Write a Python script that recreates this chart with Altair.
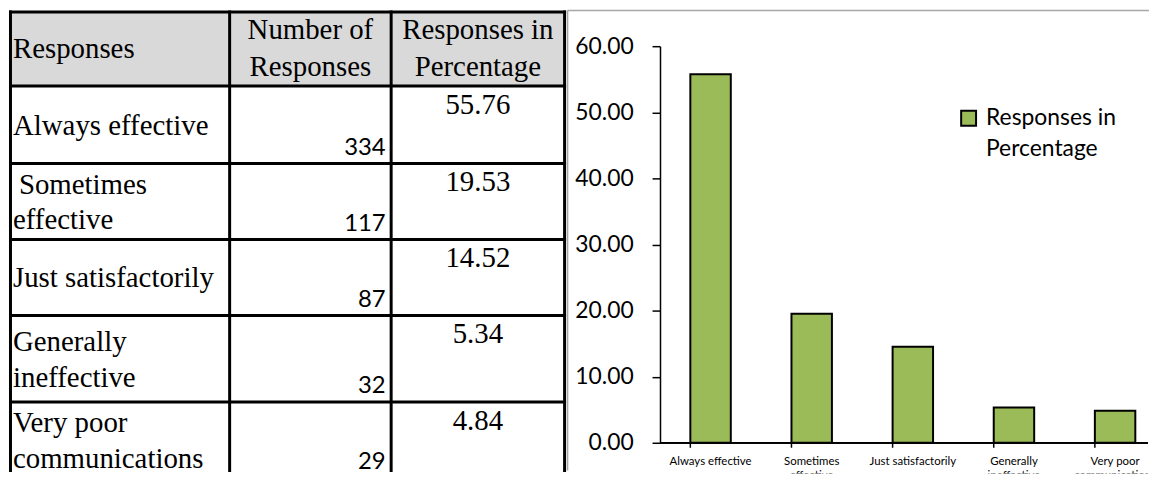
import altair as alt
import pandas as pd

# ---------------- data ----------------
RESPONSE_LINES = [
    ["Always effective"],
    [" Sometimes", "effective"],
    ["Just satisfactorily"],
    ["Generally", "ineffective"],
    ["Very poor", "communications"],
]
RESPONSES = [" ".join(l).strip() for l in RESPONSE_LINES]
COUNTS = [334, 117, 87, 32, 29]
PERCENTAGES = [55.76, 19.53, 14.52, 5.34, 4.84]
HEADER_LINES = [["Responses"], ["Number of", "Responses"], ["Responses in", "Percentage"]]
Y_TICKS = [0, 10, 20, 30, 40, 50, 60]
SERIES = "\n".join(HEADER_LINES[2])

GREEN = "#9bbb59"
SERIF = "Liberation Serif"
SANS = "Lato"

# ---------------- table layout ----------------
W_TABLE = 560
H = 467
COL_EDGES = [1.5, 222, 384.5, 559]
ROW_EDGES = [2.5, 77, 155, 231.5, 308, 395, 471]
LINE_END = 464
LINE_GAP = 36
TEXT_X = 4
LEAD_SPACE = 6  # width of a leading space in the first column

xs = alt.Scale(domain=[0, W_TABLE], range=[0, W_TABLE], nice=False, zero=False)
ys = alt.Scale(domain=[0, H], range=[0, H], nice=False, zero=False)

grid_rows = []
for x in COL_EDGES:
    grid_rows.append({"x0": x, "y0": ROW_EDGES[0], "x1": x, "y1": LINE_END})
for y in ROW_EDGES[:-1]:
    grid_rows.append({"x0": COL_EDGES[0], "y0": y, "x1": COL_EDGES[-1], "y1": y})
grid_df = pd.DataFrame(grid_rows)

frame_df = pd.DataFrame([
    {"x0": 562, "y0": 1, "x1": 562, "y1": LINE_END},
    {"x0": 562, "y0": 1, "x1": 1147, "y1": 1},
])

hdr_df = pd.DataFrame([{"x0": COL_EDGES[0], "y0": ROW_EDGES[0], "x1": COL_EDGES[-1], "y1": ROW_EDGES[1]}])

left_rows, center_rows = [], []
hc = (ROW_EDGES[0] + ROW_EDGES[1]) / 2
for ci, lines in enumerate(HEADER_LINES):
    n = len(lines)
    for j, t in enumerate(lines):
        y = hc + (j - (n - 1) / 2) * 37
        if ci == 0:
            left_rows.append({"x": TEXT_X, "y": y, "t": t})
        else:
            cx = (COL_EDGES[ci] + COL_EDGES[ci + 1]) / 2
            center_rows.append({"x": cx, "y": y, "t": t})
for i, lines in enumerate(RESPONSE_LINES):
    rc = (ROW_EDGES[i + 1] + ROW_EDGES[i + 2]) / 2 + 1
    n = len(lines)
    for j, t in enumerate(lines):
        x = TEXT_X + (LEAD_SPACE if t.startswith(" ") else 0)
        left_rows.append({"x": x, "y": rc + (j - (n - 1) / 2) * LINE_GAP, "t": t.strip()})
left_df = pd.DataFrame(left_rows)
center_df = pd.DataFrame(center_rows)

cnt_df = pd.DataFrame({
    "x": [379] * len(COUNTS),
    "y": [ROW_EDGES[i + 2] - 9 for i in range(len(COUNTS))],
    "v": COUNTS,
})
pc_x = (COL_EDGES[2] + COL_EDGES[3]) / 2
pct_df = pd.DataFrame({
    "x": [pc_x] * len(PERCENTAGES),
    "y": [ROW_EDGES[i + 1] + 28 for i in range(len(PERCENTAGES))],
    "v": PERCENTAGES,
})

X = lambda f: alt.X(f, type="quantitative", scale=xs, axis=None)
Y = lambda f: alt.Y(f, type="quantitative", scale=ys, axis=None)

hdr = alt.Chart(hdr_df).mark_rect(color="#d9d9d9").encode(x=X("x0"), x2="x1", y=Y("y0"), y2="y1")
grid = alt.Chart(grid_df).mark_rule(color="black", strokeWidth=3, strokeCap="square").encode(
    x=X("x0"), x2="x1", y=Y("y0"), y2="y1")
frame = alt.Chart(frame_df).mark_rule(color="#a6a6a6", strokeWidth=1.5).encode(
    x=X("x0"), x2="x1", y=Y("y0"), y2="y1")
ltxt = alt.Chart(left_df).mark_text(align="left", baseline="middle", font=SERIF, fontSize=29, color="black").encode(
    x=X("x"), y=Y("y"), text="t:N")
ctxt = alt.Chart(center_df).mark_text(align="center", baseline="middle", font=SERIF, fontSize=29, color="black").encode(
    x=X("x"), y=Y("y"), text="t:N")
cnt = alt.Chart(cnt_df).mark_text(align="right", baseline="alphabetic", font=SANS, fontSize=24, color="black").encode(
    x=X("x"), y=Y("y"), text=alt.Text("v:Q", format="d"))
pct = alt.Chart(pct_df).mark_text(align="center", baseline="alphabetic", font=SERIF, fontSize=29, color="black").encode(
    x=X("x"), y=Y("y"), text=alt.Text("v:Q", format=".2f"))

table = alt.layer(hdr, grid, frame, ltxt, ctxt, cnt, pct).properties(width=W_TABLE, height=H)

# ---------------- bar chart ----------------
SPACING = 95
W_BAR = 491
STEP = 101.75
bar_df = pd.DataFrame({
    "response": RESPONSES,
    "label": ["\n".join(s.strip() for s in l) for l in RESPONSE_LINES],
    "pct": PERCENTAGES,
    "series": [SERIES] * len(RESPONSES),
})

xsc = alt.Scale(domain=RESPONSES, range=[0, STEP * len(RESPONSES)], paddingInner=0.6, paddingOuter=0.3)
ysc = alt.Scale(domain=[0, 60], range=[436, 37], nice=False, zero=True)

base = alt.Chart(bar_df)
bars = base.mark_bar(stroke="black", strokeWidth=2, clip=True).encode(
    x=alt.X("response:N", scale=xsc, axis=None, sort=RESPONSES),
    y=alt.Y("pct:Q", scale=ysc, title=None, axis=alt.Axis(
        values=Y_TICKS, format=".2f", labelFont=SANS, labelFontSize=23, labelColor="black",
        tickColor="black", tickSize=8, tickWidth=1.5, domainColor="black", domainWidth=1.5,
        grid=False, labelPadding=19, labelFlush=False)),
    color=alt.Color("series:N", scale=alt.Scale(domain=[SERIES], range=[GREEN]), legend=alt.Legend(
        orient="none", legendX=954, legendY=98, title=None, symbolType="square", symbolSize=225,
        symbolStrokeColor="black", symbolStrokeWidth=2, symbolOpacity=1, labelFont=SANS,
        labelFontSize=23, labelColor="black", labelLimit=0, labelOffset=6, padding=0,
        labelExpr="split(datum.label, '\\n')")),
)
xline = base.mark_rule(color="black", strokeWidth=1.5).encode(
    y=alt.datum(0), x=alt.value(0), x2=alt.value(W_BAR))
ticks = base.mark_rule(color="black", strokeWidth=1.5, clip=True).encode(
    x=alt.X("response:N", scale=xsc, axis=None, sort=RESPONSES, bandPosition=0),
    y=alt.value(436), y2=alt.value(441))
xlabels = base.mark_text(lineBreak="\n", lineHeight=14, font=SANS, fontSize=11.5, baseline="alphabetic",
                         align="center", color="black", clip=True).encode(
    x=alt.X("response:N", scale=xsc, axis=None, sort=RESPONSES),
    y=alt.value(458), text="label:N")

barchart = alt.layer(bars, xline, ticks, xlabels).properties(width=W_BAR, height=H)

chart = alt.hconcat(table, barchart, spacing=SPACING, bounds="flush").properties(
    padding=0, background="white"
).configure(style={"guide-label": {"lineHeight": 31}}).configure_view(stroke=None)

chart.save("out.html", embed_options={"renderer": "svg", "actions": False})
